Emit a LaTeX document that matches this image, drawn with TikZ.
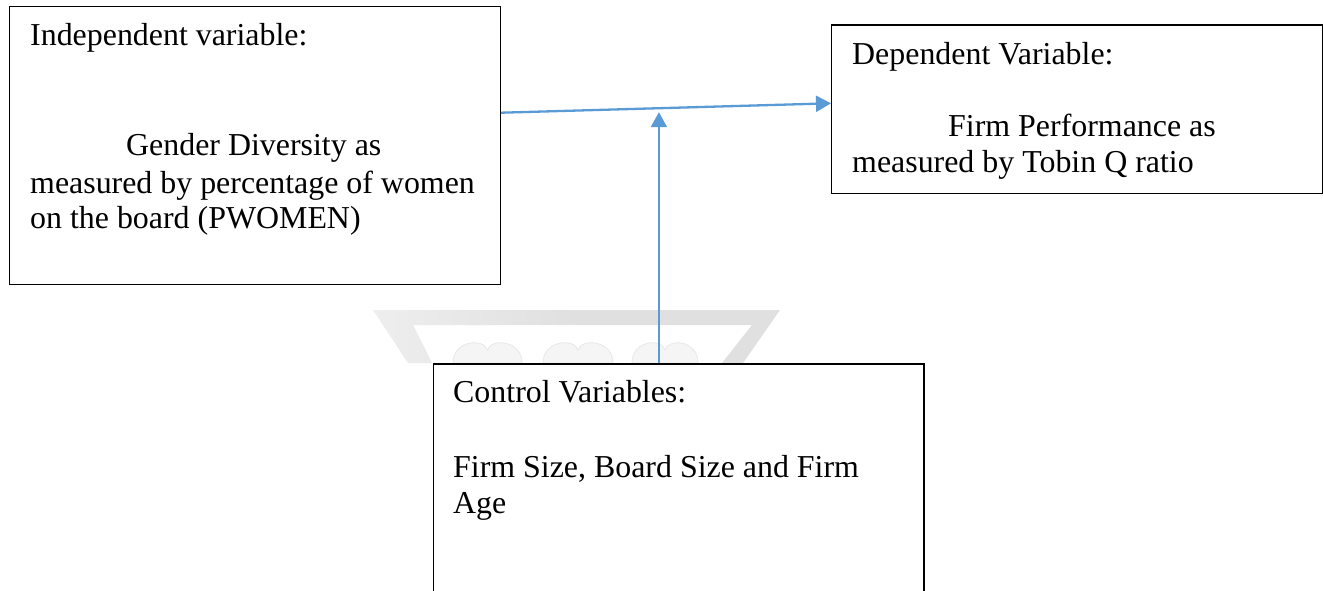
\documentclass[tikz,border=0pt]{standalone}
\usepackage{fontspec}
\setmainfont{Liberation Serif}
\usetikzlibrary{arrows.meta,calc}
\definecolor{arrowblue}{HTML}{5B9BD5}
\definecolor{wmgray}{HTML}{E0E0E0}
\definecolor{wmlight}{HTML}{F5F5F5}
\definecolor{wmedge}{HTML}{E8E8E8}
\tikzset{
  varbox/.style={draw=black, line width=1.2pt, rectangle, inner sep=0pt, anchor=north west},
  txt/.style={anchor=base west, inner sep=0pt, font=\fontsize{31.9}{36}\selectfont},
  arr/.style={draw=arrowblue, line width=2.3pt, -{Triangle[length=15pt,width=16pt]}},
  bump/.style={fill=wmlight, draw=wmedge, line width=0.8pt}
}
\begin{document}
\begin{tikzpicture}[x=1pt,y=-1pt]
\clip (0,0) rectangle (1323,590);
\fill[white] (0,0) rectangle (1323,590);
% watermark
\shade[left color=wmgray!55, right color=wmgray, middle color=wmgray]
  (373,310) -- (780,310) -- (743,363) -- (722,363) -- (752,325) -- (413,325) -- (432,363) -- (408,363) -- cycle;
\foreach \x/\w in {453/69, 543/70, 632/66}{
  \path[bump] (\x,363) .. controls (\x,340) and (\x+0.45*\w,338) .. (\x+0.5*\w,350)
     .. controls (\x+0.55*\w,338) and (\x+\w,340) .. (\x+\w,363) -- cycle;
}
% boxes
\node[varbox, minimum width=491pt, minimum height=278pt] (indep) at (9,6) {};
\node[varbox, minimum width=490.7pt, minimum height=168.4pt] (dep) at (831,24.3) {};
\node[varbox, minimum width=490.6pt, minimum height=260pt] (ctrl) at (432.7,363.3) {};
% texts
\node[txt] (t1) at (30,45) {Independent variable:};
\node[txt] (t2) at (126,155) {Gender Diversity as};
\node[txt] (t3) at (30,193) {measured by percentage of women};
\node[txt] (t4) at (30,228) {on the board (PWOMEN)};
\node[txt] (t5) at (852,64) {Dependent Variable:};
\node[txt] (t6) at (948,136) {Firm Performance as};
\node[txt] (t7) at (852,172) {measured by Tobin Q ratio};
\node[txt] (t8) at (453,402) {Control Variables:};
\node[txt] (t9) at (453,477) {Firm Size, Board Size and Firm};
\node[txt] (t10) at (453,513) {Age};
% connectors
\coordinate (s1) at ([yshift=-106.7pt]indep.north east);
\coordinate (e1) at ([yshift=-79pt]dep.north west);
\draw[arr] (s1) -- (e1);
\path (s1) -- (e1) coordinate[pos=0.479] (mid);
\coordinate (s2) at ([xshift=-19.7pt]ctrl.north);
\draw[arr, shorten >=4pt] (s2) -- (s2 |- mid);
\end{tikzpicture}
\end{document}
